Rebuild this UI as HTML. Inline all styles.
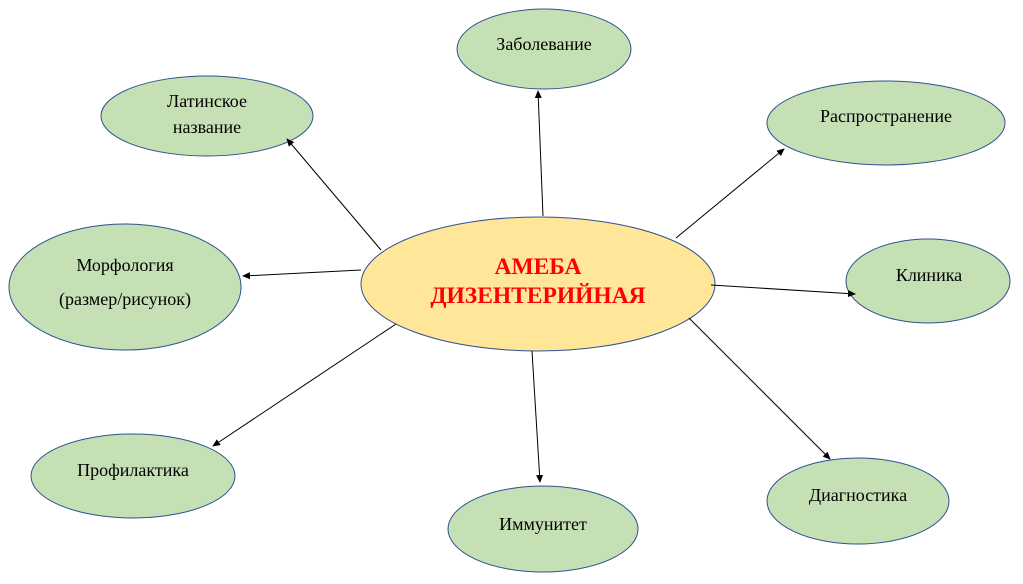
<!DOCTYPE html>
<html><head><meta charset="utf-8"><style>
html,body{margin:0;padding:0;background:#fff;}
svg{display:block;}
text{font-family:"Liberation Serif","DejaVu Serif",serif;}
</style></head><body>
<svg width="1023" height="584" viewBox="0 0 1023 584" xmlns="http://www.w3.org/2000/svg">
<defs><marker id="a" markerWidth="8" markerHeight="8" refX="7" refY="4" orient="auto" markerUnits="userSpaceOnUse"><path d="M0,0.5 L8,4 L0,7.5 z" fill="#000"/></marker></defs>
<g fill="#c5e0b4" stroke="#2f528f" stroke-width="1">
<ellipse cx="544" cy="49" rx="87" ry="40"/>
<ellipse cx="207" cy="116" rx="106" ry="40"/>
<ellipse cx="886" cy="123" rx="119" ry="42"/>
<ellipse cx="125" cy="287" rx="116" ry="63"/>
<ellipse cx="928" cy="281" rx="82" ry="42"/>
<ellipse cx="133" cy="476" rx="102" ry="42"/>
<ellipse cx="543" cy="529" rx="95" ry="43"/>
<ellipse cx="858" cy="501" rx="91" ry="43"/>
</g>
<ellipse cx="538" cy="284" rx="177" ry="67" fill="#ffe699" stroke="#2f528f"/>
<g stroke="#000" stroke-width="1" marker-end="url(#a)">
<line x1="543" y1="216" x2="538" y2="91"/>
<line x1="381" y1="250" x2="287" y2="139"/>
<line x1="676" y1="238" x2="784" y2="149"/>
<line x1="361" y1="270" x2="243" y2="276"/>
<line x1="711" y1="285" x2="855" y2="294"/>
<line x1="396" y1="324" x2="213" y2="446"/>
<line x1="532" y1="351" x2="540" y2="482"/>
<line x1="689" y1="318" x2="830" y2="459"/>
</g>
<g font-size="18" fill="#000" text-anchor="middle">
<text x="544" y="50">Заболевание</text>
<text x="207" y="107">Латинское</text>
<text x="207" y="133">название</text>
<text x="886" y="122">Распространение</text>
<text x="125" y="271">Морфология</text>
<text x="125" y="305">(размер/рисунок)</text>
<text x="929" y="281">Клиника</text>
<text x="133" y="476">Профилактика</text>
<text x="543" y="530">Иммунитет</text>
<text x="858" y="501">Диагностика</text>
</g>
<g font-size="23.5" font-weight="bold" fill="#ff0000" text-anchor="middle">
<text x="538" y="274">АМЕБА</text>
<text x="538" y="303">ДИЗЕНТЕРИЙНАЯ</text>
</g>
</svg>
</body></html>
